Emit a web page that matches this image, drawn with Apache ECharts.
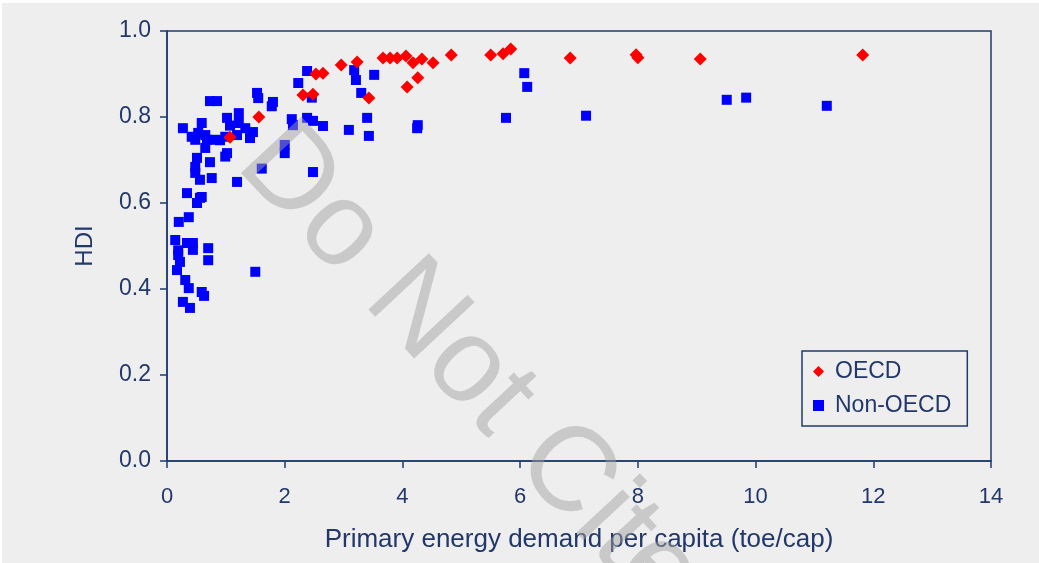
<!DOCTYPE html>
<html>
<head>
<meta charset="utf-8">
<script src="https://cdn.jsdelivr.net/npm/echarts@6/dist/echarts.min.js"></script>
<style>
  html, body { margin: 0; padding: 0; background: #ffffff; }
  #chart { position: absolute; left: 2px; top: 3px; width: 1037px; height: 560px; background: #eeeeee; }
</style>
</head>
<body>
<div id="chart"></div>
<script>
// Primary energy demand per capita (toe/cap) and HDI, by country group
const oecdEnergy = [1.07, 1.56, 2.31, 2.48, 2.53, 2.65, 2.96, 3.23, 3.43, 3.67, 3.79, 3.91, 4.06, 4.18,
  4.33, 4.52, 4.83, 4.08, 4.26, 5.50, 5.71, 5.84, 6.85, 7.97, 8.00, 9.06, 11.82];
const oecdHdi = [0.753, 0.800, 0.851, 0.853, 0.900, 0.902, 0.921, 0.928, 0.844, 0.937, 0.937, 0.937, 0.942, 0.926,
  0.935, 0.926, 0.944, 0.870, 0.891, 0.944, 0.947, 0.958, 0.937, 0.945, 0.938, 0.935, 0.944];

const nonOecdEnergy = [0.73, 0.85, 0.27, 0.59, 0.65, 0.42, 0.48, 0.53, 0.68, 0.65, 0.82, 0.90, 0.99, 1.02,
  1.07, 1.19, 1.22, 1.22, 1.33, 1.46, 1.41, 1.02, 0.99, 0.51, 0.48, 0.48, 0.56, 0.73, 0.76, 1.19,
  0.34, 0.59, 1.55, 1.53, 1.61, 0.56, 0.51, 0.37, 0.20, 0.14, 0.34, 0.44, 0.44, 0.19, 0.19, 0.22,
  0.17, 0.70, 0.70, 0.31, 0.37, 0.59, 0.63, 0.27, 0.39, 1.50, 2.38, 2.23, 1.80, 1.78, 2.46, 2.12,
  2.14, 2.38, 2.48, 2.65, 2.00, 2.00, 2.48, 3.18, 3.21, 3.52, 3.30, 3.40, 3.43, 3.09, 4.26, 4.25,
  6.07, 6.12, 5.76, 9.51, 9.84, 11.21, 7.12];
const nonOecdHdi = [0.837, 0.837, 0.774, 0.786, 0.758, 0.754, 0.747, 0.763, 0.747, 0.728, 0.747, 0.746, 0.754, 0.798,
  0.780, 0.758, 0.809, 0.786, 0.774, 0.765, 0.751, 0.716, 0.708, 0.705, 0.684, 0.670, 0.654, 0.695, 0.658, 0.649,
  0.623, 0.614, 0.844, 0.856, 0.680, 0.612, 0.600, 0.567, 0.556, 0.514, 0.507, 0.507, 0.491, 0.490, 0.479, 0.463,
  0.444, 0.495, 0.467, 0.421, 0.402, 0.393, 0.384, 0.370, 0.356, 0.440, 0.907, 0.879, 0.835, 0.825, 0.845, 0.795,
  0.781, 0.798, 0.791, 0.779, 0.735, 0.716, 0.672, 0.909, 0.886, 0.898, 0.856, 0.798, 0.756, 0.770, 0.781, 0.774,
  0.902, 0.870, 0.798, 0.840, 0.845, 0.826, 0.803];

const seriesNames = ['OECD', 'Non-OECD'];
const xAxisTitle = 'Primary energy demand per capita (toe/cap)';
const yAxisTitle = 'HDI';
const watermarkText = 'Do Not Cite';

const zip = (xs, ys) => xs.map((x, i) => [x, ys[i]]);

const ink = '#22386a';
const frame = '#1f3b6e';
const sans = '"Liberation Sans", Arial, sans-serif';

const chart = echarts.init(document.getElementById('chart'), null, { renderer: 'canvas' });

chart.setOption({
  backgroundColor: '#eeeeee',
  animation: false,
  grid: {
    left: 165, top: 28, right: 48, bottom: 102,
    show: true, borderColor: frame, borderWidth: 1.5, backgroundColor: 'transparent'
  },
  xAxis: {
    type: 'value', min: 0, max: 14, interval: 2,
    name: xAxisTitle, nameLocation: 'middle', nameGap: 66,
    nameTextStyle: { fontFamily: sans, fontSize: 26, color: ink },
    axisLine: { show: true, onZero: false, lineStyle: { color: frame, width: 1.5 } },
    axisTick: { show: true, inside: false, length: 7, lineStyle: { color: frame, width: 1.5 } },
    axisLabel: { fontFamily: sans, fontSize: 22, color: ink, margin: 25 },
    splitLine: { show: false }
  },
  yAxis: {
    type: 'value', min: 0, max: 1, interval: 0.2,
    name: yAxisTitle, nameLocation: 'middle', nameGap: 70, nameRotate: 90,
    nameTextStyle: { fontFamily: sans, fontSize: 24, color: ink },
    axisLine: { show: true, lineStyle: { color: frame, width: 1.5 } },
    axisTick: { show: true, inside: false, length: 7, lineStyle: { color: frame, width: 1.5 } },
    axisLabel: { fontFamily: sans, fontSize: 23, color: ink, margin: 16,
      formatter: v => v.toFixed(1) },
    splitLine: { show: false }
  },
  legend: {
    orient: 'vertical',
    left: 800, top: 348,
    padding: [9, 16, 9, 11],
    itemGap: 11,
    itemWidth: 11, itemHeight: 11,
    borderColor: frame, borderWidth: 1.5,
    backgroundColor: '#eeeeee',
    textStyle: { fontFamily: sans, fontSize: 23, color: ink, padding: [0, 0, 0, 6] },
    data: [
      { name: seriesNames[0], icon: 'diamond' },
      { name: seriesNames[1], icon: 'rect' }
    ]
  },
  series: [
    {
      name: seriesNames[0], type: 'scatter', symbol: 'diamond', symbolSize: 13,
      itemStyle: { color: '#ff0000', opacity: 1 },
      data: zip(oecdEnergy, oecdHdi), z: 3
    },
    {
      name: seriesNames[1], type: 'scatter', symbol: 'rect', symbolSize: 10,
      itemStyle: { color: '#0000ff', opacity: 1 },
      data: zip(nonOecdEnergy, nonOecdHdi), z: 2
    }
  ],
  graphic: [
    {
      type: 'text', z: 100,
      x: 468, y: 367,
      rotation: -47 * Math.PI / 180,
      style: {
        text: watermarkText,
        fontFamily: sans, fontSize: 120,
        fill: 'rgba(160,160,160,0.48)',
        align: 'center', verticalAlign: 'middle'
      }
    }
  ]
});
</script>
</body>
</html>
